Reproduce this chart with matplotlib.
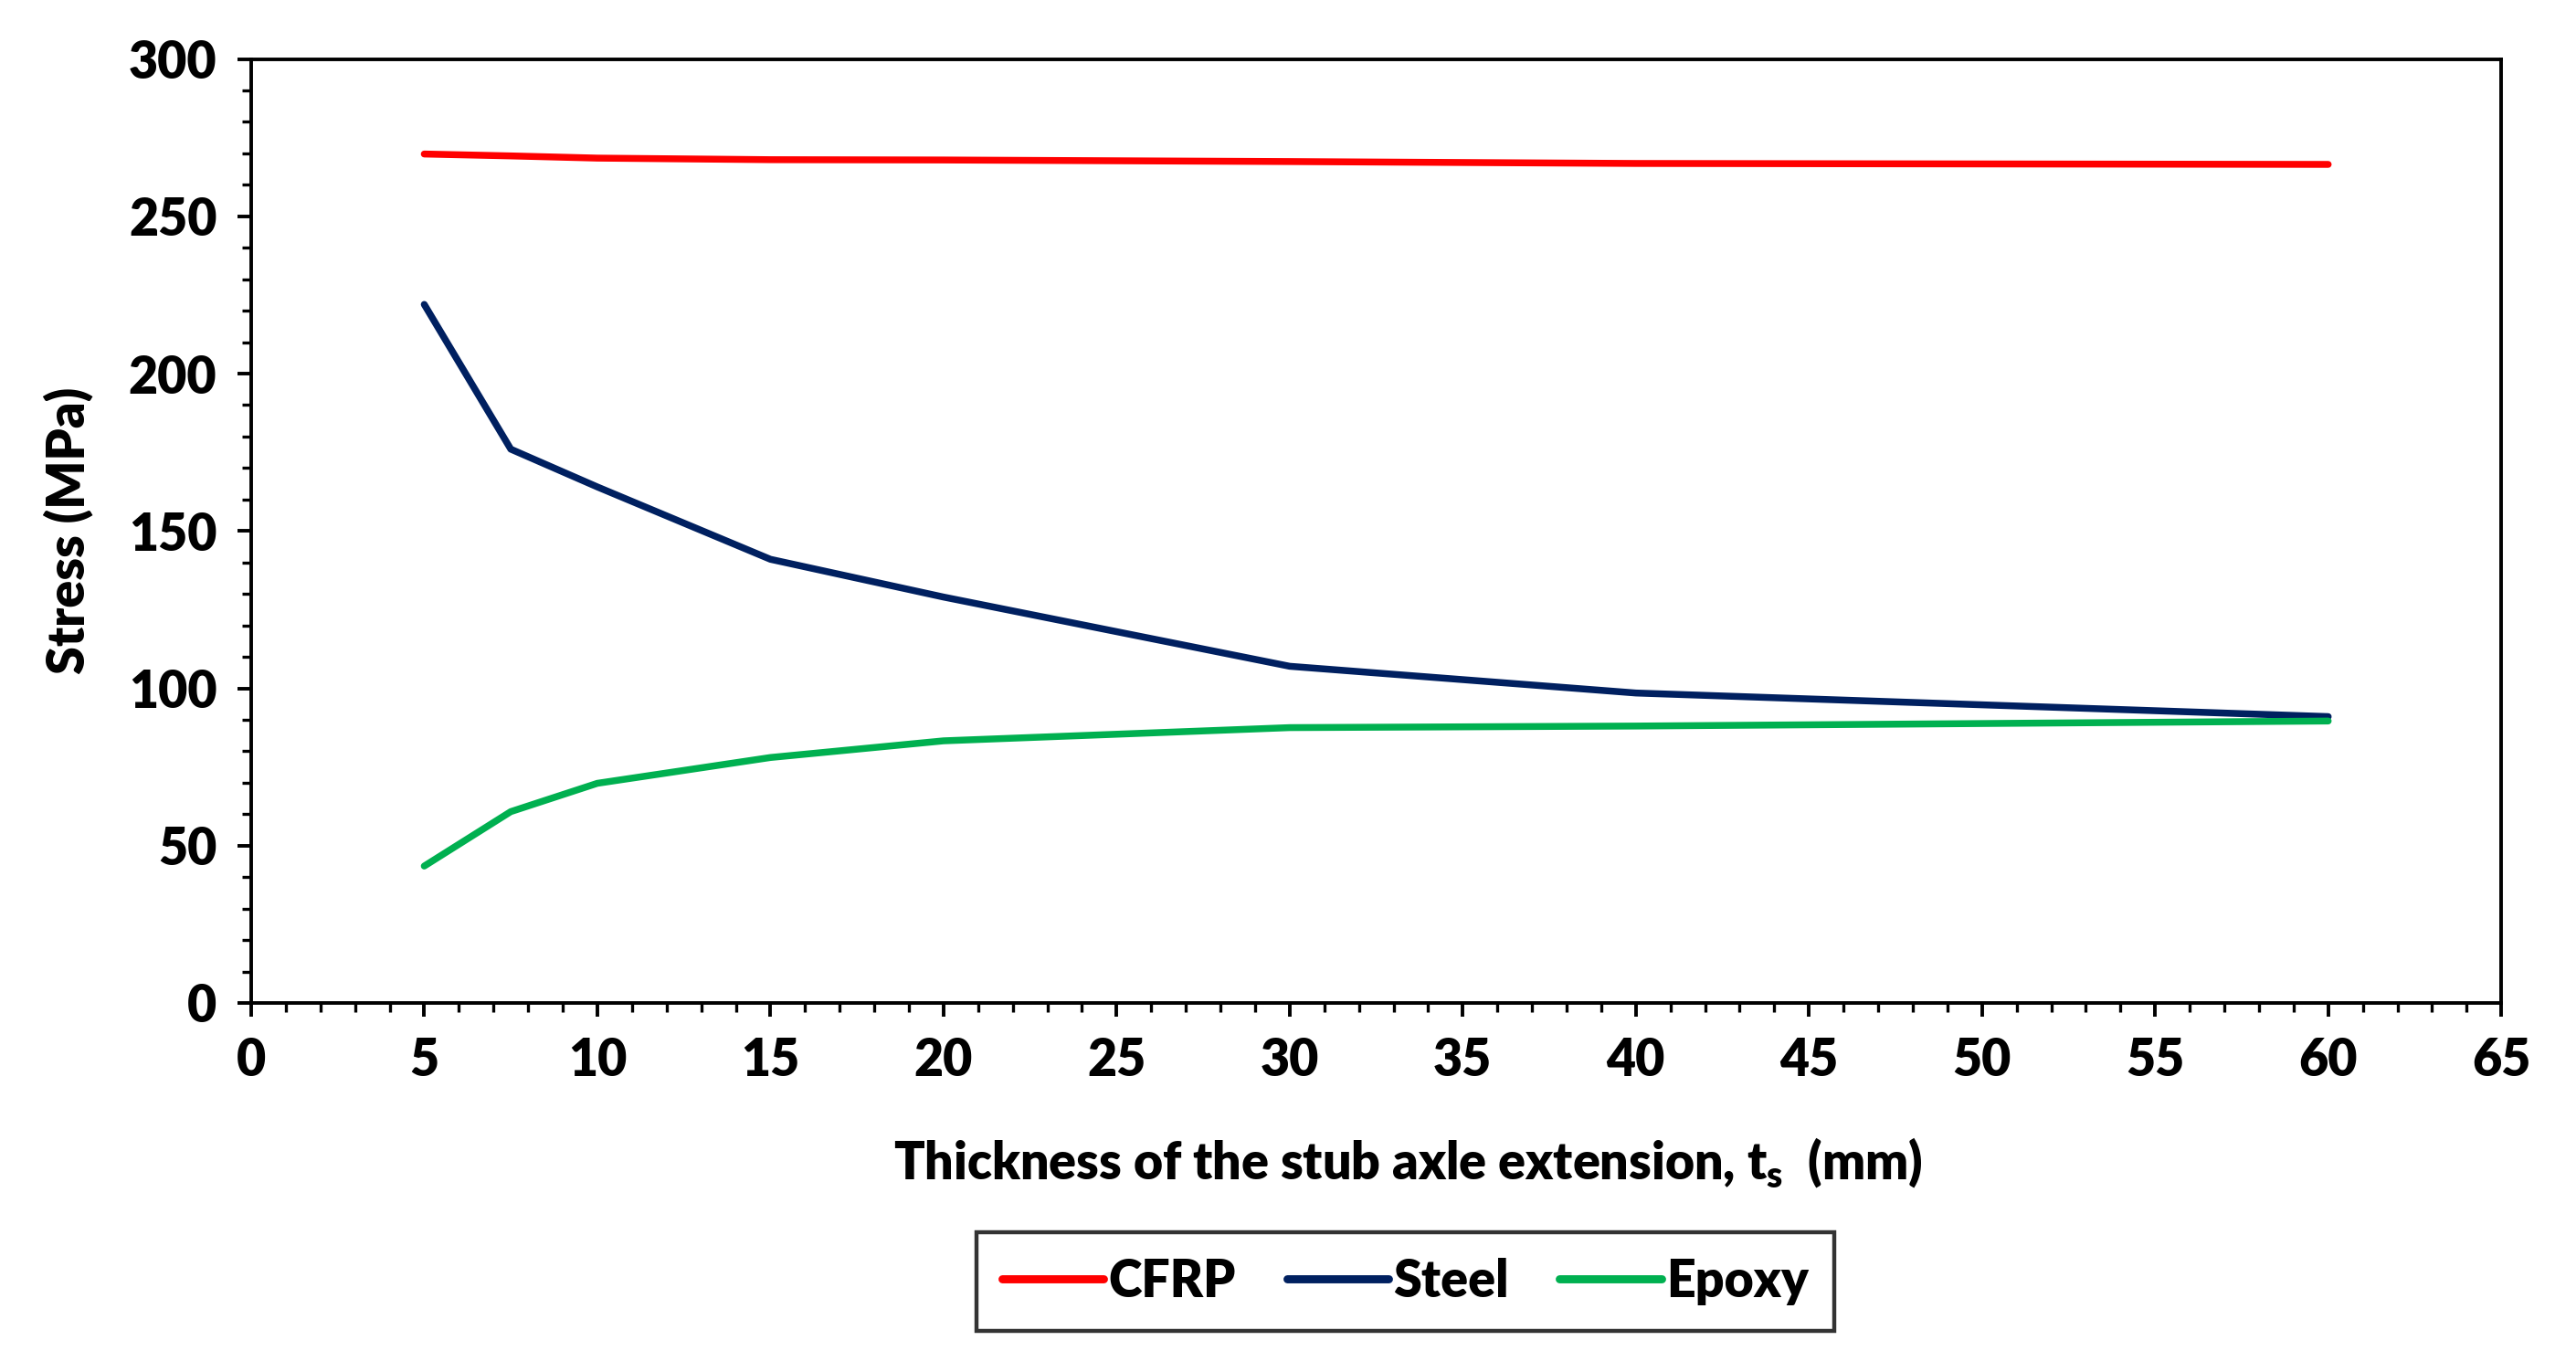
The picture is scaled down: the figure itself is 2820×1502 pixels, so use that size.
import numpy as np
import matplotlib
matplotlib.use("Agg")
import matplotlib.pyplot as plt
from matplotlib.ticker import MultipleLocator

# data
thickness = [5, 7.5, 10, 15, 20, 30, 40, 60]
cfrp = [269.8, 269.2, 268.5, 268.0, 267.9, 267.4, 266.8, 266.5]
steel = [222, 176, 164, 141, 129, 107, 98.5, 91]
epoxy = [43.5, 60.8, 69.8, 78.0, 83.3, 87.5, 88.0, 89.6]

plt.rcParams['font.family'] = ['Lato', 'DejaVu Sans']
plt.rcParams['font.weight'] = 'heavy'
plt.rcParams['axes.labelweight'] = 'heavy'
plt.rcParams['mathtext.fontset'] = 'custom'
plt.rcParams['mathtext.rm'] = 'Lato:heavy'
plt.rcParams['mathtext.it'] = 'Lato:heavy'

fig = plt.figure(figsize=(14.1, 7.51), dpi=200)
ax = fig.add_axes([0.0975, 0.269, 0.8735, 0.688])

lw = 2.7
ax.plot(thickness, cfrp, color='#FF0000', lw=lw, label='CFRP', solid_capstyle='round')
ax.plot(thickness, steel, color='#002060', lw=lw, label='Steel', solid_capstyle='round')
ax.plot(thickness, epoxy, color='#00B050', lw=lw, label='Epoxy', solid_capstyle='round')

ax.set_xlim(0, 65)
ax.set_ylim(0, 300)
ax.xaxis.set_major_locator(MultipleLocator(5))
ax.xaxis.set_minor_locator(MultipleLocator(1))
ax.yaxis.set_major_locator(MultipleLocator(50))
ax.yaxis.set_minor_locator(MultipleLocator(10))

for s in ax.spines.values():
    s.set_linewidth(1.4)
    s.set_color('black')

ax.tick_params(axis='both', which='major', direction='out', length=5.5, width=1.4,
               labelsize=20, pad=8)
ax.tick_params(axis='both', which='minor', direction='out', length=3.6, width=1.2)
ax.tick_params(top=False, right=False, which='both')

ax.set_ylabel('Stress (MPa)', fontsize=20, labelpad=14)
ax.set_xlabel('Thickness of the stub axle extension, $\\mathrm{t_s}$  (mm)', fontsize=20)
ax.xaxis.set_label_coords(0.514, -0.14)

leg = ax.legend(loc='center', bbox_to_anchor=(0.513, -0.295), ncol=3,
                frameon=True, fancybox=False, edgecolor='black', fontsize=20,
                handlelength=2.0, handletextpad=0.1, columnspacing=1.0,
                borderpad=0.5, borderaxespad=0)
leg.get_frame().set_linewidth(1.6)
for line in leg.get_lines():
    line.set_linewidth(3.2)

fig.savefig('out.png', dpi=200, facecolor='white')
